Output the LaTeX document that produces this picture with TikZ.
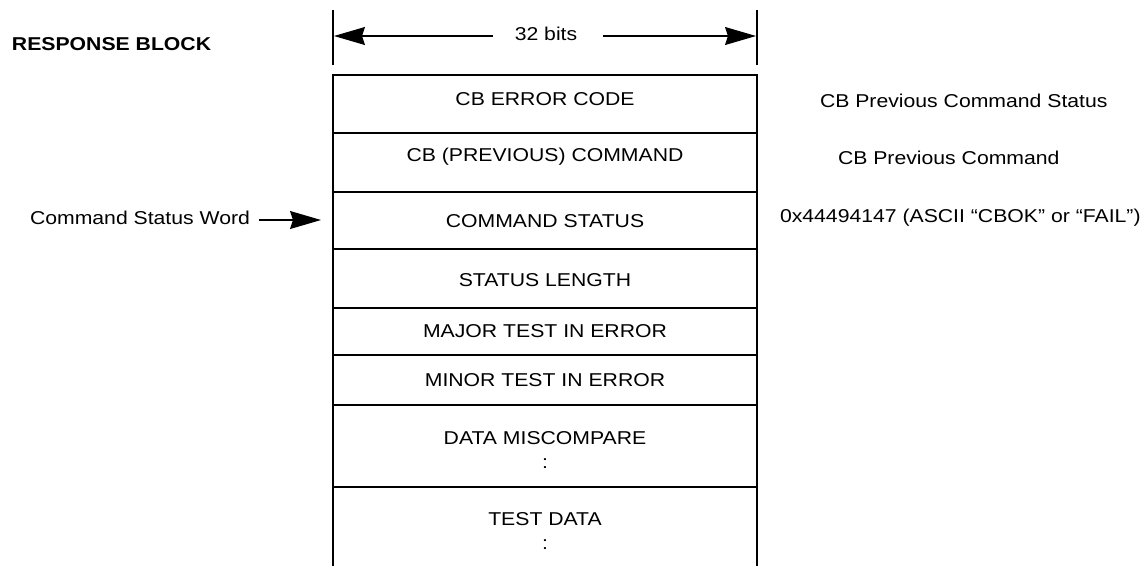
\documentclass[tikz,border=0pt]{standalone}
\usepackage{fontspec}
\setmainfont{Liberation Sans}[FakeStretch=1.14]
\usetikzlibrary{arrows.meta}

\begin{document}
\begin{tikzpicture}[x=1pt,y=-1pt,
  every node/.style={inner sep=0pt, outer sep=0pt},
  txt/.style={font=\fontsize{18.6}{24}\selectfont, align=center},
  line/.style={line width=1.5pt, black},
  tip/.style={line width=1.2pt, -{Stealth[length=31pt,width=18pt,inset=3pt]}}]
  \useasboundingbox (0,0) rectangle (1146,566);

  % title
  \node[txt, font=\fontsize{18.6}{24}\selectfont\bfseries, anchor=west] (title) at (12,44) {RESPONSE BLOCK};

  % width dimension above the block
  \coordinate (tl) at (333,10);
  \coordinate (tlb) at (333,65);
  \coordinate (tr) at (757,10);
  \coordinate (trb) at (757,65);
  \draw[line, line width=1.3pt] (tl) -- (tlb);
  \draw[line, line width=1.3pt] (tr) -- (trb);
  \node[txt] (bits) at (546,34) {32 bits};
  \coordinate (al) at (334,36);
  \coordinate (ar) at (756,36);
  \coordinate (bitsl) at ([xshift=-22pt]bits.west);
  \coordinate (bitsr) at ([xshift=26pt]bits.east);
  \draw[tip] (bitsl |- al) -- (al);
  \draw[tip] (bitsr |- ar) -- (ar);

  % block outline and field separators
  \coordinate (b0l) at (333,75);  \coordinate (b0r) at (757,75);
  \coordinate (bl) at (333,566);  \coordinate (br) at (757,566);
  \draw[line] (bl) -- (b0l) -- (b0r) -- (br);
  \foreach \y in {133,192,249,308,355,405,487}
    \draw[line] (333,\y) -- (757,\y);

  % field names
  \node[txt] (f1) at (545,99)  {CB ERROR CODE};
  \node[txt] (f2) at (545,157) {CB (PREVIOUS) COMMAND};
  \node[txt] (f3) at (545,221) {COMMAND STATUS};
  \node[txt] (f4) at (545,280) {STATUS LENGTH};
  \node[txt] (f5) at (545,331) {MAJOR TEST IN ERROR};
  \node[txt] (f6) at (545,380) {MINOR TEST IN ERROR};
  \node[txt, anchor=north] (f7) at (545,432) {DATA MISCOMPARE\\:};
  \node[txt, anchor=north] (f8) at (545,513) {TEST DATA\\:};

  % notes on the right
  \node[txt, anchor=west] (n1) at (820,101) {CB Previous Command Status};
  \node[txt, anchor=west] (n2) at (838,158) {CB Previous Command};
  \node[txt, anchor=west] (n3) at (780,218) {0x44494147 (ASCII “CBOK” or “FAIL”)};

  % pointer to the status word
  \node[txt, anchor=west] (csw) at (30,218) {Command Status Word};
  \coordinate (cswtip) at (321,220);
  \coordinate (cswtail) at ([xshift=9pt]csw.east);
  \draw[tip] (cswtail |- cswtip) -- (cswtip);
\end{tikzpicture}
\end{document}
